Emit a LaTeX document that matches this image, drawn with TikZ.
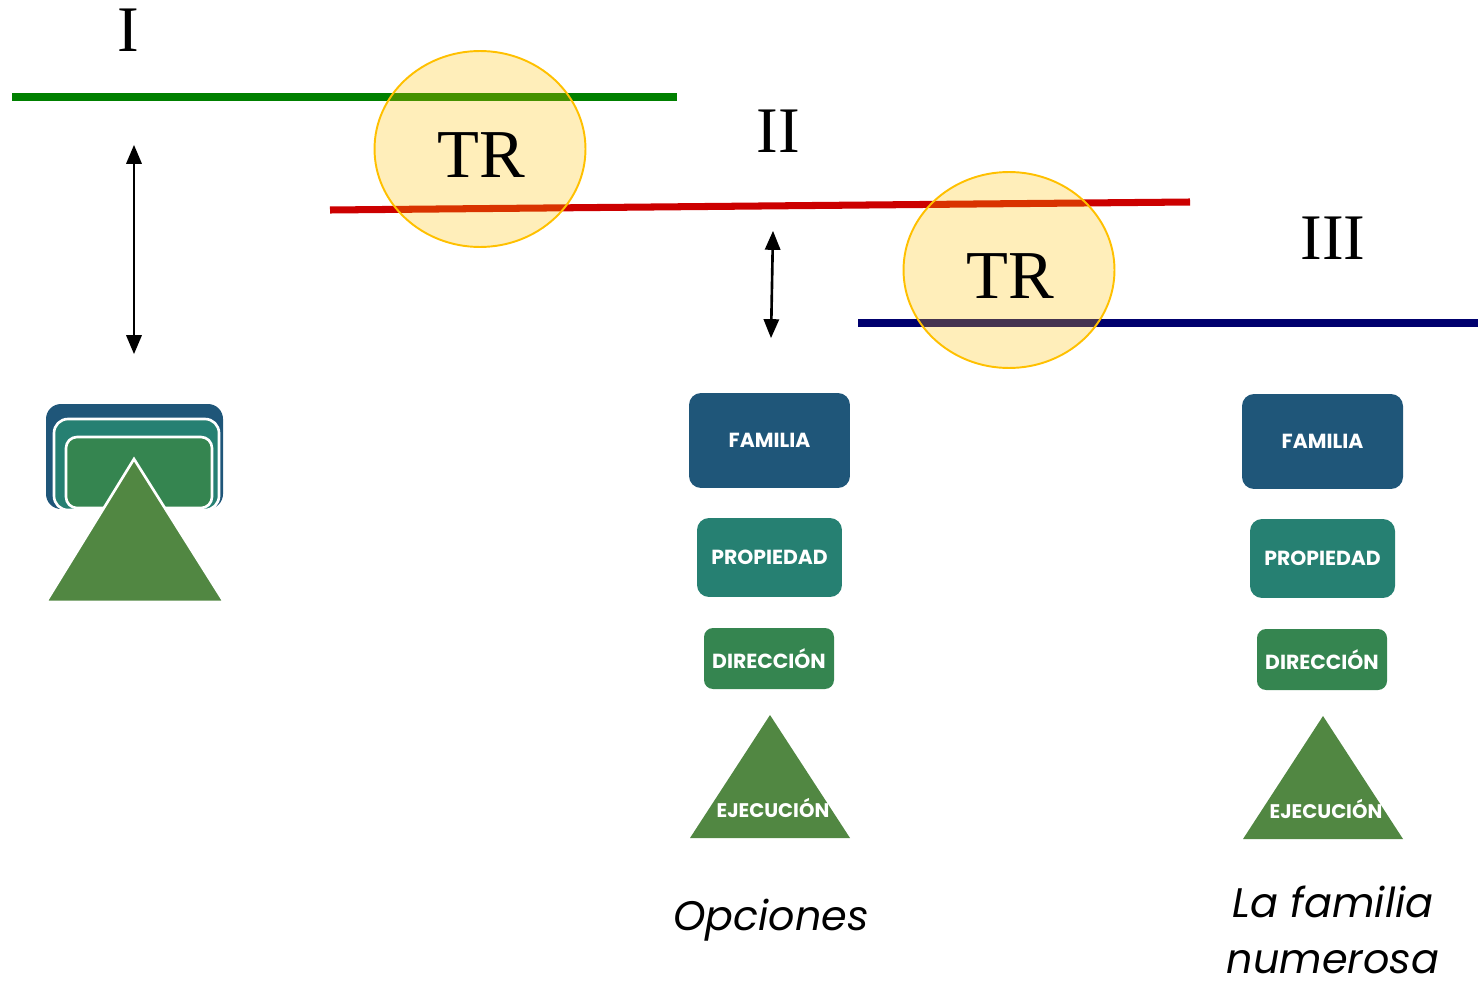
\documentclass[tikz,border=0pt]{standalone}
\usepackage{fontspec}
\setmainfont{Liberation Serif}
\newfontfamily\boxfont{Poppins}
\usepackage{tikz}
\usetikzlibrary{arrows,shapes.geometric}
\definecolor{lineI}{RGB}{0,128,0}
\definecolor{lineII}{RGB}{204,0,0}
\definecolor{lineIII}{RGB}{0,0,110}
\definecolor{trgold}{RGB}{255,192,0}
\definecolor{famblue}{RGB}{31,86,121}
\definecolor{propteal}{RGB}{38,128,114}
\definecolor{dirgreen}{RGB}{53,133,80}
\definecolor{ejgreen}{RGB}{81,135,66}

\begin{document}
\begin{tikzpicture}
        [x=0.02cm, y=-0.02cm,
        lvl/.style={line width=4pt},
        numstyle/.style={font=\fontsize{37}{40}\selectfont},
        trstyle/.style={ellipse, draw=trgold, line width=1.1pt, fill=trgold, fill opacity=0.27, text opacity=1,
            minimum width=4.22cm, minimum height=3.92cm, inner sep=0pt},
        trtext/.style={font=\fontsize{39}{42}\selectfont},
        dstyle/.style={triangle 45-triangle 45, line width=1.5pt},
        boxstyle/.style={rounded corners=0.24cm, text=white, inner sep=0pt, font=\boxfont\bfseries\fontsize{11.6}{13}\selectfont},
        famstyle/.style={boxstyle, fill=famblue, minimum width=3.22cm, minimum height=1.9cm},
        propstyle/.style={boxstyle, fill=propteal, minimum width=2.9cm, minimum height=1.58cm},
        dirstyle/.style={boxstyle, fill=dirgreen, minimum width=2.6cm, minimum height=1.22cm, rounded corners=0.18cm},
        ejstyle/.style={text=white, inner sep=0pt, font=\boxfont\bfseries\fontsize{11.2}{13}\selectfont},
        capstyle/.style={align=center, inner sep=0pt, font=\boxfont\itshape\fontsize{23.5}{32}\selectfont}]

        \useasboundingbox (0,0) rectangle (1483,983);

        \draw[lvl, lineI] (12,97) -- (677,97);
        \draw[lvl, lineII] (330,210) -- (1190,202);
        \draw[lvl, lineIII] (858,323) -- (1478,323);

        \node[numstyle] (numI)   at (128,30) {I};
        \node[numstyle] (numII)  at (778,131) {II};
        \node[numstyle] (numIII) at (1333,238) {III};

        \node[trstyle] (tr1) at (480,149) {};
        \node[trstyle] (tr2) at (1009,270) {};
        \node[trtext] (trtext1) at (481,155) {TR};
        \node[trtext] (trtext2) at (1010,276) {TR};

        \coordinate (a1) at (134,145);
        \coordinate (b1) at (134,354);
        \coordinate (a2) at (773,231);
        \coordinate (b2) at (771,338);
        \draw[dstyle] (a1) -- (b1);
        \draw[dstyle] (a2) -- (b2);

        \fill[famblue, rounded corners=0.3cm] (46,404) rectangle (223,509);
        \filldraw[propteal, draw=white, line width=1.5pt, rounded corners=0.28cm] (54,419) rectangle (219,510);
        \filldraw[dirgreen, draw=white, line width=1.5pt, rounded corners=0.22cm] (66,437) rectangle (212,508);
        \filldraw[ejgreen, draw=white, line width=1.5pt] (134,459) -- (224,602) -- (46,602) -- cycle;

        \node[famstyle]  (fam2)  at (769.5,440.5) {FAMILIA};
        \node[propstyle] (prop2) at (769.5,557.5) {PROPIEDAD};
        \node[dirstyle]  (dir2)  at (769,658.5) {DIRECCIÓN};
        \fill[ejgreen] (770,715) -- (850,838) -- (690,838) -- cycle;
        \node[ejstyle] (ej2) at (773,808) {EJECUCIÓN};
        \node[capstyle] (cap2) at (771,920) {Opciones};

        \node[famstyle]  (fam3)  at (1322.5,441.5) {FAMILIA};
        \node[propstyle] (prop3) at (1322.5,558.5) {PROPIEDAD};
        \node[dirstyle]  (dir3)  at (1322,659.5) {DIRECCIÓN};
        \fill[ejgreen] (1323,716) -- (1403,839) -- (1243,839) -- cycle;
        \node[ejstyle] (ej3) at (1326,809) {EJECUCIÓN};
        \node[capstyle] (cap3) at (1333,930) {La familia\\numerosa};
    \end{tikzpicture}
\end{document}
